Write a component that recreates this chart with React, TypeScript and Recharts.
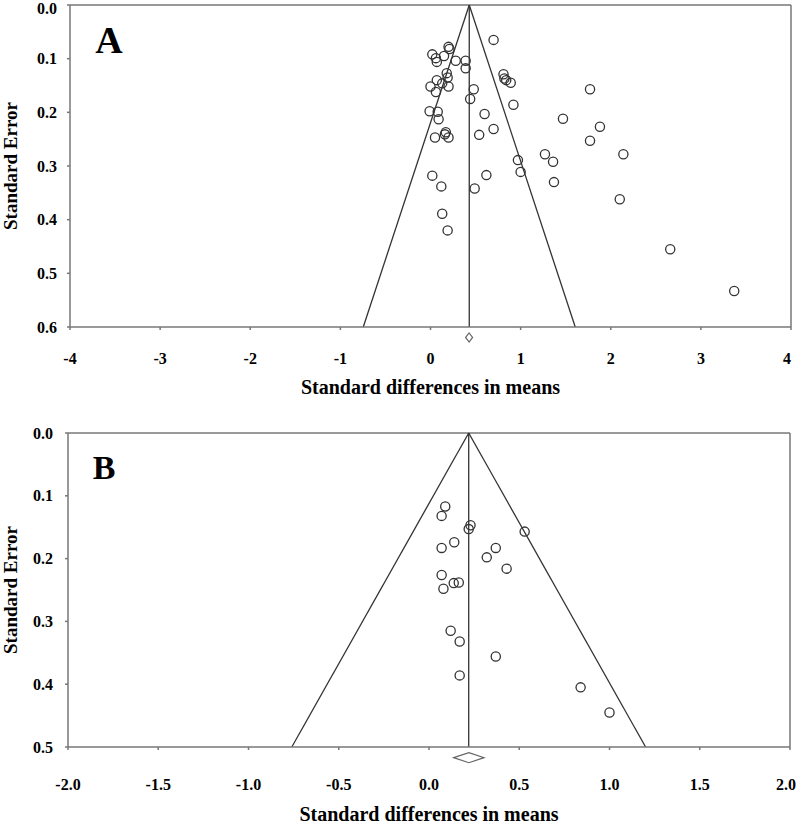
import { ScatterChart, Scatter, XAxis, YAxis, ReferenceLine, ReferenceArea, Label } from 'recharts';

// Panel A: standard difference in means vs standard error
const smdA = [0.70, 0.02, 0.06, 0.07, 0.15, 0.20, 0.21, 0.28, 0.39, 0.39, 0.18, 0.19, 0.07, 0.13, 0.00, 0.06, 0.20, 0.48, 0.44, 0.81, 0.82, 0.84, 0.89, 0.92, -0.01, 0.08, 0.09, 0.60, 0.70, 0.17, 0.16, 0.05, 0.20, 0.54, 1.77, 1.47, 1.88, 1.77, 2.14, 1.27, 1.36, 0.97, 1.00, 1.37, 0.02, 0.12, 0.62, 0.49, 2.10, 0.13, 0.19, 2.66, 3.37];
const seA = [0.065, 0.092, 0.099, 0.106, 0.095, 0.078, 0.082, 0.104, 0.104, 0.118, 0.127, 0.135, 0.140, 0.146, 0.152, 0.162, 0.152, 0.157, 0.175, 0.129, 0.137, 0.140, 0.145, 0.186, 0.198, 0.199, 0.213, 0.203, 0.231, 0.237, 0.241, 0.247, 0.247, 0.242, 0.157, 0.212, 0.227, 0.253, 0.278, 0.278, 0.292, 0.289, 0.311, 0.330, 0.318, 0.338, 0.317, 0.342, 0.362, 0.389, 0.420, 0.455, 0.533];
const meanA = 0.43;
const ciA = [0.39, 0.467];
const xTicksA = [-4, -3, -2, -1, 0, 1, 2, 3, 4];
const yTicksA = [0, 0.1, 0.2, 0.3, 0.4, 0.5, 0.6];

// Panel B
const smdB = [0.09, 0.07, 0.23, 0.22, 0.53, 0.14, 0.07, 0.37, 0.32, 0.43, 0.07, 0.165, 0.137, 0.08, 0.12, 0.17, 0.37, 0.17, 0.84, 1.0];
const seB = [0.117, 0.132, 0.147, 0.153, 0.157, 0.174, 0.183, 0.183, 0.198, 0.216, 0.226, 0.238, 0.239, 0.248, 0.315, 0.332, 0.356, 0.386, 0.405, 0.445];
const meanB = 0.22;
const ciB = [0.137, 0.305];
const xTicksB = [-2, -1.5, -1, -0.5, 0, 0.5, 1, 1.5, 2];
const yTicksB = [0, 0.1, 0.2, 0.3, 0.4, 0.5];

const font = '"Liberation Serif", "Times New Roman", serif';
const boxColor = '#777';
const lineColor = '#333';

const Ring = (p: any) => (
  <circle cx={p.cx} cy={p.cy} r={4.6} fill="none" stroke="#333" strokeWidth={1.3} />
);

const Diamond = (p: any) => {
  const { x, y, width, height } = p;
  const cx = x + width / 2;
  const cy = y + height / 2;
  return (
    <polygon
      points={`${x},${cy} ${cx},${y} ${x + width},${cy} ${cx},${y + height}`}
      fill="#fff"
      stroke="#666"
      strokeWidth={1.2}
    />
  );
};

// keep the last x label inside the page edge
const makeXTick = (fmt: (v: number) => string, last: number) => (p: any) => (
  <text
    x={p.x}
    y={p.y}
    dy="0.71em"
    dx={p.payload.value === last ? -4 : 0}
    textAnchor="middle"
    fontFamily={font}
    fontWeight="bold"
    fontSize={16}
    fill="#000"
  >
    {fmt(p.payload.value)}
  </text>
);

// the top label sits a little lower so it is not cut off
const makeYTick = (topShift: number) => (p: any) => (
  <text
    x={p.x}
    y={p.y + (p.payload.value === 0 ? topShift : 0)}
    dy="0.355em"
    textAnchor="end"
    fontFamily={font}
    fontWeight="bold"
    fontSize={16}
    fill="#000"
  >
    {Number(p.payload.value).toFixed(1)}
  </text>
);

function FunnelPanel({
  letter, smd, se, mean, ci, xTicks, yTicks, seMax, xMin, xMax,
  height, margin, yWidth, xHeight, xTickGap, yTickGap, titleOffset, diamondY, fmtX,
  letterX, letterY, letterSize, topShift,
}: any) {
  const data = smd.map((v: number, i: number) => ({ smd: v, se: se[i] }));
  const lo = mean - 1.96 * seMax;
  const hi = mean + 1.96 * seMax;
  return (
    <ScatterChart width={797} height={height} margin={margin}>
      <XAxis
        type="number"
        dataKey="smd"
        domain={[xMin, xMax]}
        ticks={xTicks}
        interval={0}
        height={xHeight}
        tickSize={3}
        tickMargin={xTickGap}
        stroke={boxColor}
        strokeWidth={1.5}
        tick={makeXTick(fmtX, xMax)}
        tickLine={{ stroke: boxColor }}
      >
        <Label
          value="Standard differences in means"
          position="insideBottom"
          offset={titleOffset}
          style={{ fontFamily: font, fontWeight: 'bold', fontSize: 20, fill: '#000' }}
        />
      </XAxis>
      <YAxis
        type="number"
        dataKey="se"
        reversed
        domain={[0, seMax]}
        ticks={yTicks}
        interval={0}
        width={yWidth}
        tickSize={3}
        tickMargin={yTickGap}
        stroke={boxColor}
        strokeWidth={1.5}
        tick={makeYTick(topShift)}
        tickLine={{ stroke: boxColor }}
      >
        <Label
          value="Standard Error"
          angle={-90}
          position="insideLeft"
          offset={10}
          style={{ fontFamily: font, fontWeight: 'bold', fontSize: 19, fill: '#000', textAnchor: 'middle' }}
        />
      </YAxis>
      <ReferenceLine y={0} stroke={boxColor} strokeWidth={1.5} />
      <ReferenceLine x={xMax} stroke={boxColor} strokeWidth={1.5} />
      <ReferenceLine x={mean} stroke={lineColor} strokeWidth={1.3} />
      <ReferenceLine segment={[{ x: mean, y: 0 }, { x: lo, y: seMax }]} stroke={lineColor} strokeWidth={1.3} />
      <ReferenceLine segment={[{ x: mean, y: 0 }, { x: hi, y: seMax }]} stroke={lineColor} strokeWidth={1.3} />
      <ReferenceArea
        x1={ci[0]}
        x2={ci[1]}
        y1={diamondY[0]}
        y2={diamondY[1]}
        ifOverflow="visible"
        shape={Diamond}
      />
      <Scatter data={data} shape={Ring} isAnimationActive={false} />
      <text x={letterX} y={letterY} textAnchor="middle" fontFamily={font} fontWeight="bold" fontSize={letterSize} fill="#000">
        {letter}
      </text>
    </ScatterChart>
  );
}

export default function App() {
  return (
    <div style={{ position: 'absolute', left: 0, top: 0, width: 797, height: 824, background: '#fff' }}>
      <FunnelPanel
        letter="A"
        smd={smdA}
        se={seA}
        mean={meanA}
        ci={ciA}
        xTicks={xTicksA}
        yTicks={yTicksA}
        seMax={0.6}
        xMin={-4}
        xMax={4}
        height={410}
        margin={{ top: 5, right: 6, left: 0, bottom: 0 }}
        yWidth={70}
        xHeight={83}
        xTickGap={23}
        yTickGap={10}
        titleOffset={16}
        diamondY={[0.611, 0.628]}
        fmtX={(v: number) => String(v)}
        letterX={109}
        letterY={53}
        letterSize={38}
        topShift={3}
      />
      <FunnelPanel
        letter="B"
        smd={smdB}
        se={seB}
        mean={meanB}
        ci={ciB}
        xTicks={xTicksB}
        yTicks={yTicksB}
        seMax={0.5}
        xMin={-2}
        xMax={2}
        height={414}
        margin={{ top: 23, right: 7, left: 0, bottom: 0 }}
        yWidth={68}
        xHeight={77}
        xTickGap={29}
        yTickGap={12}
        titleOffset={3}
        diamondY={[0.509, 0.525]}
        fmtX={(v: number) => v.toFixed(1)}
        letterX={104}
        letterY={69}
        letterSize={34}
        topShift={0}
      />
    </div>
  );
}
